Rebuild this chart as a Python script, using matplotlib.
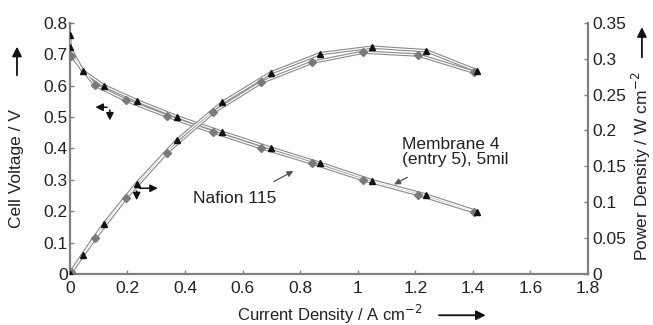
import matplotlib
matplotlib.use("Agg")
import matplotlib.pyplot as plt

plt.rcParams['font.family'] = ['Liberation Sans', 'DejaVu Sans']

# === data ===
# Membrane 4 (entry 5), 5 mil  -> black triangles
m4_i = [0, 0, 0.044, 0.117, 0.232, 0.371, 0.53, 0.697, 0.87, 1.05, 1.238, 1.415]
m4_v = [0.76, 0.722, 0.647, 0.600, 0.552, 0.501, 0.451, 0.401, 0.352, 0.297, 0.251, 0.198]
m4_p = [0, 0, 0.027, 0.069, 0.126, 0.186, 0.239, 0.280, 0.307, 0.316, 0.311, 0.283]

# Nafion 115 -> gray diamonds
naf_i = [0.005, 0.088, 0.195, 0.336, 0.497, 0.665, 0.842, 1.02, 1.21, 1.405]
naf_v = [0.695, 0.601, 0.553, 0.503, 0.452, 0.402, 0.353, 0.300, 0.253, 0.198]
naf_p = [0.003, 0.050, 0.106, 0.169, 0.225, 0.267, 0.295, 0.309, 0.305, 0.281]

x_ticks = [0, 0.2, 0.4, 0.6, 0.8, 1, 1.2, 1.4, 1.6, 1.8]
x_labels = ["0", "0.2", "0.4", "0.6", "0.8", "1", "1.2", "1.4", "1.6", "1.8"]
v_ticks = [0, 0.1, 0.2, 0.3, 0.4, 0.5, 0.6, 0.7, 0.8]
v_labels = ["0", "0.1", "0.2", "0.3", "0.4", "0.5", "0.6", "0.7", "0.8"]
p_ticks = [0, 0.05, 0.1, 0.15, 0.2, 0.25, 0.3, 0.35]
p_labels = ["0", "0.05", "0.1", "0.15", "0.2", "0.25", "0.3", "0.35"]

AX_COL = "#808080"
TXT_COL = "#222222"
LINE_COL = "#8a8a8a"


def double_line(ax, x, y, marker, mcol, ms):
    # outlined look: gray line with a thin white core
    ax.plot(x, y, color=LINE_COL, lw=2.5, solid_capstyle='round', zorder=2)
    ax.plot(x, y, color="white", lw=0.9, zorder=3)
    ax.plot(x, y, ls='none', marker=marker, color=mcol, ms=ms, zorder=4)


fig = plt.figure(figsize=(6.53, 3.25), dpi=100)
ax = fig.add_axes([0.107, 0.157, 0.7935, 0.773])
ax2 = ax.twinx()

double_line(ax, naf_i, naf_v, 'D', "#7a7a7a", 4.2)
double_line(ax, m4_i, m4_v, '^', "#111111", 4.8)
double_line(ax2, naf_i, naf_p, 'D', "#7a7a7a", 4.2)
double_line(ax2, m4_i, m4_p, '^', "#111111", 4.8)

ax.set_xlim(0, 1.8)
ax.set_ylim(0, 0.8)
ax2.set_ylim(0, 0.35)
ax.set_xticks(x_ticks, x_labels)
ax.set_yticks(v_ticks, v_labels)
ax2.set_yticks(p_ticks, p_labels)

for a in (ax, ax2):
    for s in a.spines.values():
        s.set_color(AX_COL)
        s.set_linewidth(1.6)
    a.spines['top'].set_visible(False)
    a.tick_params(colors=AX_COL, labelcolor=TXT_COL, labelsize=12.5,
                  direction='in', length=3, width=1, pad=1.5)
ax.tick_params(axis='x', pad=5)
ax2.tick_params(axis='y', pad=3)
ax.spines['right'].set_visible(False)
ax2.spines['left'].set_visible(False)
ax2.spines['bottom'].set_visible(False)

# axis titles with their arrows
fig.text(0.026, 0.48, "Cell Voltage / V", rotation=90, ha='center', va='center',
         fontsize=12.5, color=TXT_COL)
fig.text(0.983, 0.49, "Power Density / W cm$^{-2}$", rotation=90, ha='center',
         va='center', fontsize=12.5, color=TXT_COL)
fig.text(0.505, 0.034, "Current Density / A cm$^{-2}$", ha='center', va='center',
         fontsize=12, color=TXT_COL)
arw = dict(arrowstyle='-|>', color="#111111", lw=1.3, mutation_scale=14)
fig.add_artist(matplotlib.patches.FancyArrowPatch((0.026, 0.76), (0.026, 0.865),
               transform=fig.transFigure, **arw))
fig.add_artist(matplotlib.patches.FancyArrowPatch((0.983, 0.815), (0.983, 0.925),
               transform=fig.transFigure, **arw))
fig.add_artist(matplotlib.patches.FancyArrowPatch((0.668, 0.03), (0.748, 0.03),
               transform=fig.transFigure, **arw))

# little corner arrows telling which curve goes to which axis
small = dict(arrowstyle='-|>', color="#111111", lw=1.1, mutation_scale=11)
ax.annotate("", xy=(0.079, 0.531), xytext=(0.139, 0.531), arrowprops=small)
ax.annotate("", xy=(0.139, 0.480), xytext=(0.139, 0.531), arrowprops=small)
ax.annotate("", xy=(0.315, 0.273), xytext=(0.232, 0.273), arrowprops=small)
ax.annotate("", xy=(0.232, 0.226), xytext=(0.232, 0.273), arrowprops=small)

# series labels
thin = dict(arrowstyle='-|>', color="#555555", lw=0.9, mutation_scale=9)
ax.text(1.153, 0.389, "Membrane 4\n(entry 5), 5mil", ha='left', va='center',
        fontsize=12.5, color=TXT_COL, linespacing=1.0)
ax.annotate("", xy=(1.118, 0.281), xytext=(1.181, 0.312), arrowprops=thin)
ax.text(0.427, 0.239, "Nafion 115", ha='left', va='center', fontsize=12.5, color=TXT_COL)
ax.annotate("", xy=(0.785, 0.332), xytext=(0.70, 0.29), arrowprops=thin)

fig.savefig("out.png", dpi=100)
